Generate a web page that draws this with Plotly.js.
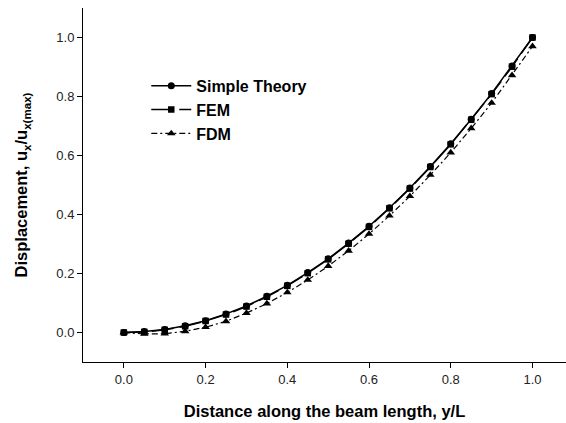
<!DOCTYPE html>
<html><head><meta charset="utf-8">
<script src="https://cdn.plot.ly/plotly-3.0.1.min.js"></script>
<style>html,body{margin:0;padding:0;background:#fff}#chart{width:566px;height:423px}</style>
</head><body><div id="chart"></div>
<script>
const xPos = [0,0.05,0.1,0.15,0.2,0.25,0.3,0.35,0.4,0.45,0.5,0.55,0.6,0.65,0.7,0.75,0.8,0.85,0.9,0.95,1.0];
const simpleTheory = [0,0.003,0.01,0.023,0.04,0.063,0.09,0.123,0.16,0.203,0.25,0.303,0.36,0.423,0.49,0.563,0.64,0.723,0.81,0.903,1.0];
const fem = [0,0.002,0.009,0.021,0.039,0.061,0.088,0.121,0.158,0.201,0.248,0.301,0.358,0.421,0.488,0.561,0.638,0.721,0.808,0.901,1.0];
const fdm = [0,-0.005,-0.004,0.004,0.018,0.038,0.066,0.098,0.136,0.178,0.225,0.277,0.334,0.396,0.462,0.534,0.61,0.692,0.778,0.872,0.97];
const seriesNames = ["Simple Theory","FEM","FDM"];

const traces = [
  {x:xPos,y:simpleTheory,name:seriesNames[0],mode:"lines+markers",
   line:{color:"#000",width:1.5,dash:"solid"},marker:{symbol:"circle",size:7,color:"#000"}},
  {x:xPos,y:fem,name:seriesNames[1],mode:"lines+markers",
   line:{color:"#000",width:1.5,dash:"22px,6px"},marker:{symbol:"square",size:6.5,color:"#000"}},
  {x:xPos,y:fdm,name:seriesNames[2],mode:"lines+markers",
   line:{color:"#000",width:1.2,dash:"6px,3px,2px,3px"},marker:{symbol:"triangle-up",size:7.5,color:"#000"}}
];

const layout = {
  width:566,height:423,
  margin:{l:83,r:0,t:8,b:61},
  paper_bgcolor:"#fff",plot_bgcolor:"#fff",
  font:{family:"Arial, Liberation Sans, sans-serif",color:"#000"},
  showlegend:true,
  legend:{x:0.131,y:0.828,xanchor:"left",yanchor:"top",bgcolor:"rgba(0,0,0,0)",itemwidth:40,
    font:{size:16,family:"Arial, Liberation Sans, sans-serif",weight:"bold"},tracegroupgap:0},
  xaxis:{range:[-0.1,1.082],tickvals:[0,0.2,0.4,0.6,0.8,1.0],ticktext:["0.0","0.2","0.4","0.6","0.8","1.0"],
    showgrid:false,zeroline:false,showline:true,linecolor:"#000",linewidth:1,
    ticks:"outside",ticklen:5,tickcolor:"#000",tickfont:{size:13,color:"#222"},
    title:{text:"<b>Distance along the beam length, y/L</b>",font:{size:16.5},standoff:19}},
  yaxis:{range:[-0.1,1.1],tickvals:[0,0.2,0.4,0.6,0.8,1.0],ticktext:["0.0","0.2","0.4","0.6","0.8","1.0"],
    showgrid:false,zeroline:false,showline:true,linecolor:"#000",linewidth:1,
    ticks:"outside",ticklen:5,tickcolor:"#000",tickfont:{size:13,color:"#222"},
    title:{text:"<b>Displacement, u<sub>x</sub>/u<sub>x(max)</sub></b>",font:{size:16.5},standoff:24}}
};
Plotly.newPlot("chart",traces,layout,{displayModeBar:false,staticPlot:true});
</script></body></html>
